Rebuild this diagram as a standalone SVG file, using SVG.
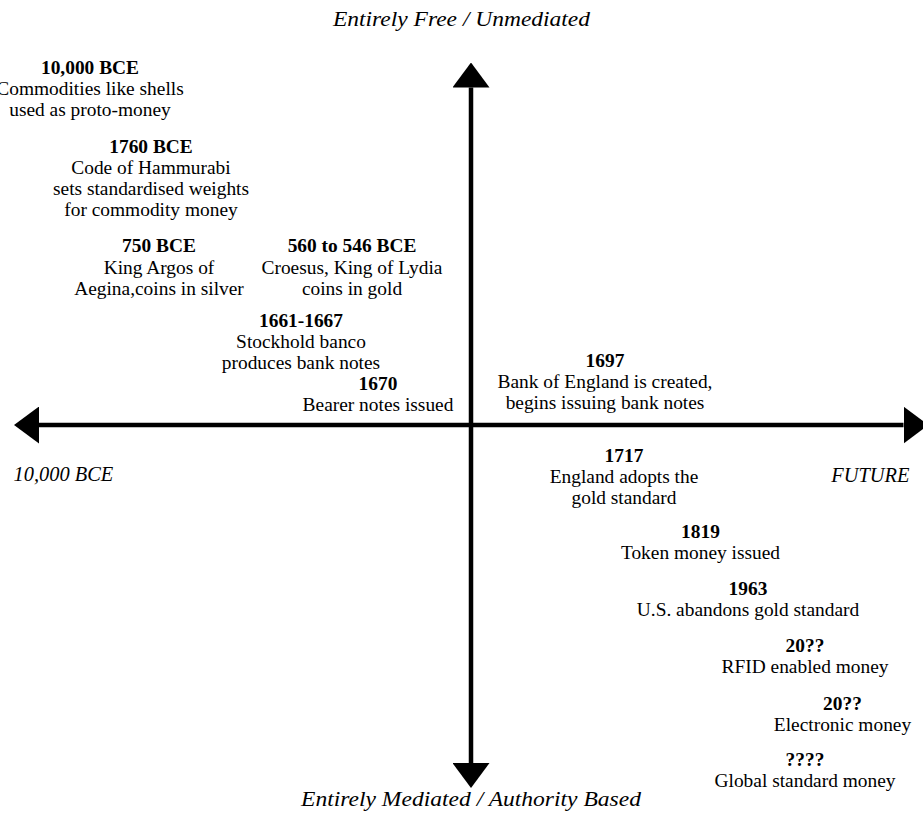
<svg xmlns="http://www.w3.org/2000/svg" width="923" height="813" viewBox="0 0 923 813">
<style>
  text { font-family: "Liberation Serif", "Times New Roman", serif; font-size: 19.4px; fill: #000; }
  .n text { text-anchor: middle; }
  .y { font-weight: bold; }
  .ax { font-style: italic; font-size: 20.4px; }
  .axis { stroke: #000; stroke-width: 4.5; fill: none; }
</style>
<defs>
  <marker id="ah" viewBox="0 0 25 37" markerWidth="25" markerHeight="37" markerUnits="userSpaceOnUse" refX="0" refY="18.5" orient="auto-start-reverse">
    <path d="M0,0 L25,18.5 L0,37 Z" fill="#000"/>
  </marker>
</defs>
<rect width="923" height="813" fill="#fff"/>
<g id="connectors">
  <line class="axis" x1="471" y1="87.5" x2="471" y2="763" marker-start="url(#ah)" marker-end="url(#ah)"/>
  <line class="axis" x1="39" y1="425" x2="903.5" y2="425" marker-start="url(#ah)" marker-end="url(#ah)"/>
</g>
<g id="axis-labels">
  <text class="ax" x="333" y="26" textLength="257" lengthAdjust="spacingAndGlyphs">Entirely Free / Unmediated</text>
  <text class="ax" x="301" y="806" textLength="340" lengthAdjust="spacingAndGlyphs">Entirely Mediated / Authority Based</text>
  <text class="ax" x="13.5" y="481">10,000 BCE</text>
  <text class="ax" x="909.5" y="481.5" text-anchor="end">FUTURE</text>
</g>
<g id="n-10000bce" class="n">
  <text class="y" x="90" y="73.5">10,000 BCE</text>
  <text x="90" y="94.5">Commodities like shells</text>
  <text x="90" y="115.5">used as proto-money</text>
</g>
<g id="n-1760bce" class="n">
  <text class="y" x="151" y="152.5">1760 BCE</text>
  <text x="151" y="173.5">Code of Hammurabi</text>
  <text x="151" y="194.5">sets standardised weights</text>
  <text x="151" y="215.5">for commodity money</text>
</g>
<g id="n-750bce" class="n">
  <text class="y" x="159" y="251.5">750 BCE</text>
  <text x="159" y="273.5">King Argos of</text>
  <text x="159" y="295">Aegina,coins in silver</text>
</g>
<g id="n-560bce" class="n">
  <text class="y" x="352" y="251.5">560 to 546 BCE</text>
  <text x="352" y="273.5">Croesus, King of Lydia</text>
  <text x="352" y="295">coins in gold</text>
</g>
<g id="n-1661" class="n">
  <text class="y" x="301" y="326.5">1661-1667</text>
  <text x="301" y="348">Stockhold banco</text>
  <text x="301" y="369">produces bank notes</text>
</g>
<g id="n-1670" class="n">
  <text class="y" x="378" y="390">1670</text>
  <text x="378" y="410.5">Bearer notes issued</text>
</g>
<g id="n-1697" class="n">
  <text class="y" x="605" y="366.5">1697</text>
  <text x="605" y="388">Bank of England is created,</text>
  <text x="605" y="409">begins issuing bank notes</text>
</g>
<g id="n-1717" class="n">
  <text class="y" x="624" y="461.5">1717</text>
  <text x="624" y="482.5">England adopts the</text>
  <text x="624" y="503.5">gold standard</text>
</g>
<g id="n-1819" class="n">
  <text class="y" x="700.5" y="538">1819</text>
  <text x="700.5" y="558.5">Token money issued</text>
</g>
<g id="n-1963" class="n">
  <text class="y" x="748" y="595">1963</text>
  <text x="748" y="616">U.S. abandons gold standard</text>
</g>
<g id="n-rfid" class="n">
  <text class="y" x="805" y="652">20??</text>
  <text x="805" y="673">RFID enabled money</text>
</g>
<g id="n-electronic" class="n">
  <text class="y" x="842.5" y="710">20??</text>
  <text x="842.5" y="730.5">Electronic money</text>
</g>
<g id="n-global" class="n">
  <text class="y" x="805" y="766">????</text>
  <text x="805" y="787">Global standard money</text>
</g>
</svg>
